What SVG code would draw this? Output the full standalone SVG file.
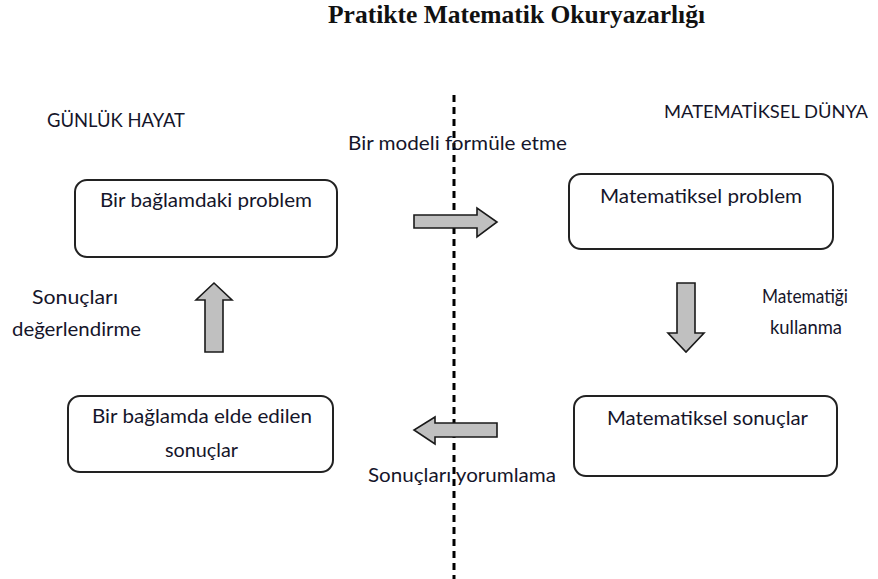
<svg xmlns="http://www.w3.org/2000/svg" width="878" height="579" viewBox="0 0 878 579">
<style>
.t{font-family:Lato,"Open Sans","Liberation Sans",sans-serif;font-size:20px;fill:#15152a}
.title{font-family:"Liberation Serif",serif;font-weight:bold;font-size:25px;fill:#111}
.box{fill:#fff;stroke:#222;stroke-width:2}
.arr{fill:#c0c0c0;stroke:#1a1a1a;stroke-width:1.6;stroke-linejoin:miter}
</style>
<rect width="878" height="579" fill="#fff"/>
<text class="title" x="328" y="23" textLength="377" lengthAdjust="spacingAndGlyphs">Pratikte Matematik Okuryazarlığı</text>
<text class="t" x="47" y="127" textLength="138" lengthAdjust="spacingAndGlyphs">GÜNLÜK HAYAT</text>
<text class="t" x="664" y="118" style="font-size:18px" textLength="204" lengthAdjust="spacingAndGlyphs">MATEMATİKSEL DÜNYA</text>

<g id="connectors">
<line x1="454" y1="95" x2="454" y2="579" stroke="#000" stroke-width="3" stroke-dasharray="7 5"/>
<polygon class="arr" points="414,215 477,215 477,208 497,222 477,237 477,228 414,228"/>
<polygon class="arr" points="677,283 695,283 695,333 704,333 686,352 668,333 677,333"/>
<polygon class="arr" points="497,423 435,423 435,417 414,430 435,444 435,437 497,437"/>
<polygon class="arr" points="205,352 223,352 223,300 232,300 214,283 196,300 205,300"/>
<text class="t" x="348" y="150" textLength="219" lengthAdjust="spacingAndGlyphs">Bir modeli formüle etme</text>
<text class="t" x="368" y="482" textLength="188" lengthAdjust="spacingAndGlyphs">Sonuçları yorumlama</text>
<text class="t" x="32" y="304" textLength="86" lengthAdjust="spacingAndGlyphs">Sonuçları</text>
<text class="t" x="12" y="336" textLength="129" lengthAdjust="spacingAndGlyphs">değerlendirme</text>
<text class="t" x="762" y="303" textLength="86" lengthAdjust="spacingAndGlyphs">Matematiği</text>
<text class="t" x="770" y="334" textLength="72" lengthAdjust="spacingAndGlyphs">kullanma</text>
</g>

<g id="n1">
<rect class="box" x="75" y="180" width="262" height="77" rx="12"/>
<text class="t" x="100" y="207" textLength="212" lengthAdjust="spacingAndGlyphs">Bir bağlamdaki problem</text>
</g>
<g id="n2">
<rect class="box" x="569" y="174" width="264" height="75" rx="12"/>
<text class="t" x="600" y="203" textLength="202" lengthAdjust="spacingAndGlyphs">Matematiksel problem</text>
</g>
<g id="n3">
<rect class="box" x="574" y="396" width="263" height="80" rx="12"/>
<text class="t" x="607" y="425" textLength="201" lengthAdjust="spacingAndGlyphs">Matematiksel sonuçlar</text>
</g>
<g id="n4">
<rect class="box" x="68" y="396" width="265" height="76" rx="12"/>
<text class="t" x="92" y="423" textLength="220" lengthAdjust="spacingAndGlyphs">Bir bağlamda elde edilen</text>
<text class="t" x="165" y="457" textLength="73" lengthAdjust="spacingAndGlyphs">sonuçlar</text>
</g>
</svg>
